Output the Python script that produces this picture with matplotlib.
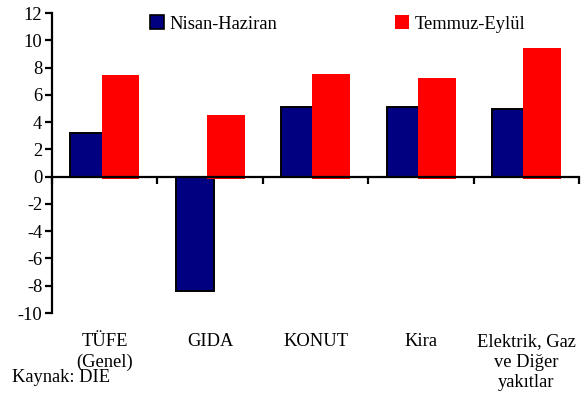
import numpy as np
import matplotlib.pyplot as plt
from matplotlib.patches import Patch
from matplotlib.transforms import blended_transform_factory

# veriler
kategoriler = ["TÜFE\n(Genel)", "GIDA", "KONUT", "Kira", "Elektrik, Gaz\nve Diğer\nyakıtlar"]
nisan_haziran = [3.2, -8.35, 5.1, 5.1, 4.95]
temmuz_eylul = [7.45, 4.55, 7.5, 7.25, 9.4]
y_ticks = [12, 10, 8, 6, 4, 2, 0, -2, -4, -6, -8, -10]

FS = 13.3
plt.rcParams['font.family'] = ['Liberation Serif', 'DejaVu Serif']
plt.rcParams['font.size'] = FS
plt.rcParams['axes.unicode_minus'] = False

NAVY = '#000080'
RED = '#ff0000'
RED_DROP = 0.18  # kırmızı çubuklar sıfırın biraz altından başlıyor

fig = plt.figure(figsize=(5.84, 4.0), dpi=100)
ax = fig.add_axes([52 / 584, 1 - 313 / 400, 527 / 584, 300 / 400])

x = np.arange(len(kategoriler))
ax.bar(x - 0.145, nisan_haziran, width=0.36, color=NAVY, edgecolor='black', linewidth=1.4, zorder=2)
ax.bar(x + 0.15, np.array(temmuz_eylul) + RED_DROP, bottom=-RED_DROP, width=0.36,
       color=RED, edgecolor='none', zorder=3)

ax.set_xlim(-0.5, len(kategoriler) - 0.5)
ax.set_ylim(-10, 12)
ax.set_yticks(y_ticks)
ax.set_yticklabels([str(v) for v in y_ticks])

ax.spines['top'].set_visible(False)
ax.spines['right'].set_visible(False)
ax.spines['bottom'].set_position(('data', 0))
ax.spines['bottom'].set_zorder(5)
ax.spines['left'].set_linewidth(1.6)
ax.spines['bottom'].set_linewidth(1.6)
ax.set_xticks(np.arange(-0.5, len(kategoriler), 1.0))
ax.set_xticklabels([])
ax.tick_params(axis='x', direction='out', length=5, width=1.6)
ax.tick_params(axis='y', direction='out', length=5, width=1.6, pad=2, labelsize=FS)

# kategori etiketleri alta
tr = blended_transform_factory(ax.transData, fig.transFigure)
for xi, lab in zip(x, kategoriler):
    ax.text(xi, 1 - 333 / 400, lab, transform=tr, ha='center', va='top',
            linespacing=1.27, fontsize=FS)

handles = [Patch(facecolor=NAVY, edgecolor='black', linewidth=1.2),
           Patch(facecolor=RED, edgecolor='none')]
fig.legend(handles, ['Nisan-Haziran', 'Temmuz-Eylül'], ncol=2, frameon=False,
           loc='center left', bbox_to_anchor=(150 / 584, 1 - 24 / 400),
           borderpad=0, borderaxespad=0, handlelength=0.75, handleheight=0.75,
           handletextpad=0.3, columnspacing=6.4, fontsize=FS)

fig.text(12 / 584, 1 - 378 / 400, 'Kaynak: DIE', ha='left', va='center', fontsize=FS)

fig.savefig('out.png', dpi=100)
